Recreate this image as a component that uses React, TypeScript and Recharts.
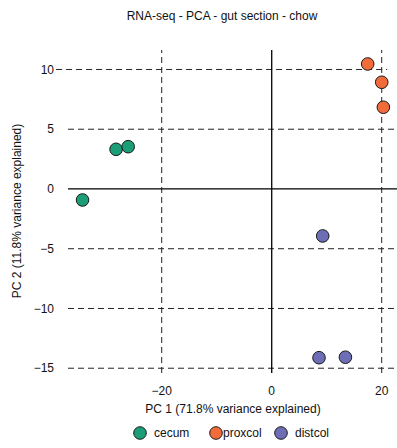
import React from "react";
import {
  ScatterChart,
  Scatter,
  XAxis,
  YAxis,
  ReferenceLine,
} from "recharts";

// PCA scores per gut section (PC1, PC2)
const cecumPC1 = [-34.4, -28.3, -26.1];
const cecumPC2 = [-0.92, 3.32, 3.54];
const proxcolPC1 = [17.45, 20.0, 20.3];
const proxcolPC2 = [10.46, 8.93, 6.84];
const distcolPC1 = [9.27, 8.6, 13.4];
const distcolPC2 = [-3.93, -14.12, -14.08];

const sections = ["cecum", "proxcol", "distcol"];
const sectionColors = ["#1B9E77", "#F26B3A", "#6E6EB6"];

const xTicks = [-20, 0, 20];
const yTicks = [-15, -10, -5, 0, 5, 10];
const dashedX = [-20, 20];
const dashedY = [5, -5, -10, -15];

const title = "RNA-seq - PCA - gut section - chow";
const xTitle = "PC 1 (71.8% variance explained)";
const yTitle = "PC 2 (11.8% variance explained)";

const FONT = "'Liberation Sans', Arial, Helvetica, sans-serif";

const toPoints = (xs: number[], ys: number[]) =>
  xs.map((x, i) => ({ x, y: ys[i] }));

const seriesData = [
  toPoints(cecumPC1, cecumPC2),
  toPoints(proxcolPC1, proxcolPC2),
  toPoints(distcolPC1, distcolPC2),
];

const makeDot = (color: string) => (props: any) => (
  <circle
    cx={props.cx}
    cy={props.cy}
    r={6.3}
    fill={color}
    stroke="#1a1a1a"
    strokeWidth={1}
  />
);

const legendX = [140, 216, 281];

const SectionLegend = () => (
  <svg
    width={397}
    height={20}
    style={{ position: "absolute", left: 0, top: 423, display: "block" }}
  >
    {sections.map((s, i) => (
      <g key={s}>
        <circle
          cx={legendX[i]}
          cy={10}
          r={6.3}
          fill={sectionColors[i]}
          stroke="#1a1a1a"
          strokeWidth={1}
        />
        <text
          x={legendX[i] + (i === 1 ? 7 : 14)}
          y={10}
          dy="0.35em"
          fontFamily={FONT}
          fontSize={12}
          fill="#111"
        >
          {s}
        </text>
      </g>
    ))}
  </svg>
);

const fmt = (v: number) => String(v).replace("-", "\u2212");

export default function App() {
  return (
    <div
      style={{
        position: "absolute",
        left: 0,
        top: 0,
        width: 397,
        height: 448,
        background: "#fff",
        fontFamily: FONT,
      }}
    >
      <div
        style={{
          position: "absolute",
          top: 9,
          left: 0,
          width: 444,
          textAlign: "center",
          fontSize: 12,
          color: "#111",
        }}
      >
        {title}
      </div>
      <ScatterChart
        width={397}
        height={448}
        margin={{ top: 50, right: 0, bottom: 45, left: 8 }}
      >
        <XAxis
          type="number"
          dataKey="x"
          domain={[-37.04, 22.78]}
          ticks={xTicks}
          allowDataOverflow
          axisLine={false}
          tickLine={false}
          height={30}
          tickMargin={7}
          tick={{ fontSize: 12, fill: "#111", fontFamily: FONT }}
          tickFormatter={fmt}
        />
        <YAxis
          type="number"
          dataKey="y"
          domain={[-15.4, 11.63]}
          ticks={yTicks}
          allowDataOverflow
          axisLine={false}
          tickLine={false}
          width={60}
          tickMargin={8}
          tick={{ fontSize: 12, fill: "#111", fontFamily: FONT }}
          tickFormatter={fmt}
        />
        {dashedY.map((v) => (
          <ReferenceLine
            key={"hy" + v}
            y={v}
            stroke="#222"
            strokeDasharray="6 4"
            strokeWidth={1}
          />
        ))}
        <ReferenceLine
          segment={[
            { x: -39.2, y: 10 },
            { x: 21, y: 10 },
          ]}
          ifOverflow="visible"
          stroke="#222"
          strokeDasharray="6 4"
          strokeWidth={1}
        />
        {dashedX.map((v) => (
          <ReferenceLine
            key={"vx" + v}
            x={v}
            stroke="#222"
            strokeDasharray="6 4"
            strokeWidth={1}
          />
        ))}
        <ReferenceLine y={0} stroke="#000" strokeWidth={1.3} />
        <ReferenceLine x={0} stroke="#000" strokeWidth={1.3} />
        {sections.map((s, i) => (
          <Scatter
            key={s}
            name={s}
            data={seriesData[i]}
            fill={sectionColors[i]}
            shape={makeDot(sectionColors[i])}
            isAnimationActive={false}
          />
        ))}
      </ScatterChart>
      <SectionLegend />
      <div
        style={{
          position: "absolute",
          top: 402,
          left: 133,
          width: 200,
          textAlign: "center",
          fontSize: 12,
          color: "#111",
          whiteSpace: "nowrap",
        }}
      >
        {xTitle}
      </div>
      <div
        style={{
          position: "absolute",
          left: 17,
          top: 211,
          transform: "translate(-50%, -50%) rotate(-90deg)",
          fontSize: 12,
          color: "#111",
          whiteSpace: "nowrap",
        }}
      >
        {yTitle}
      </div>
    </div>
  );
}
